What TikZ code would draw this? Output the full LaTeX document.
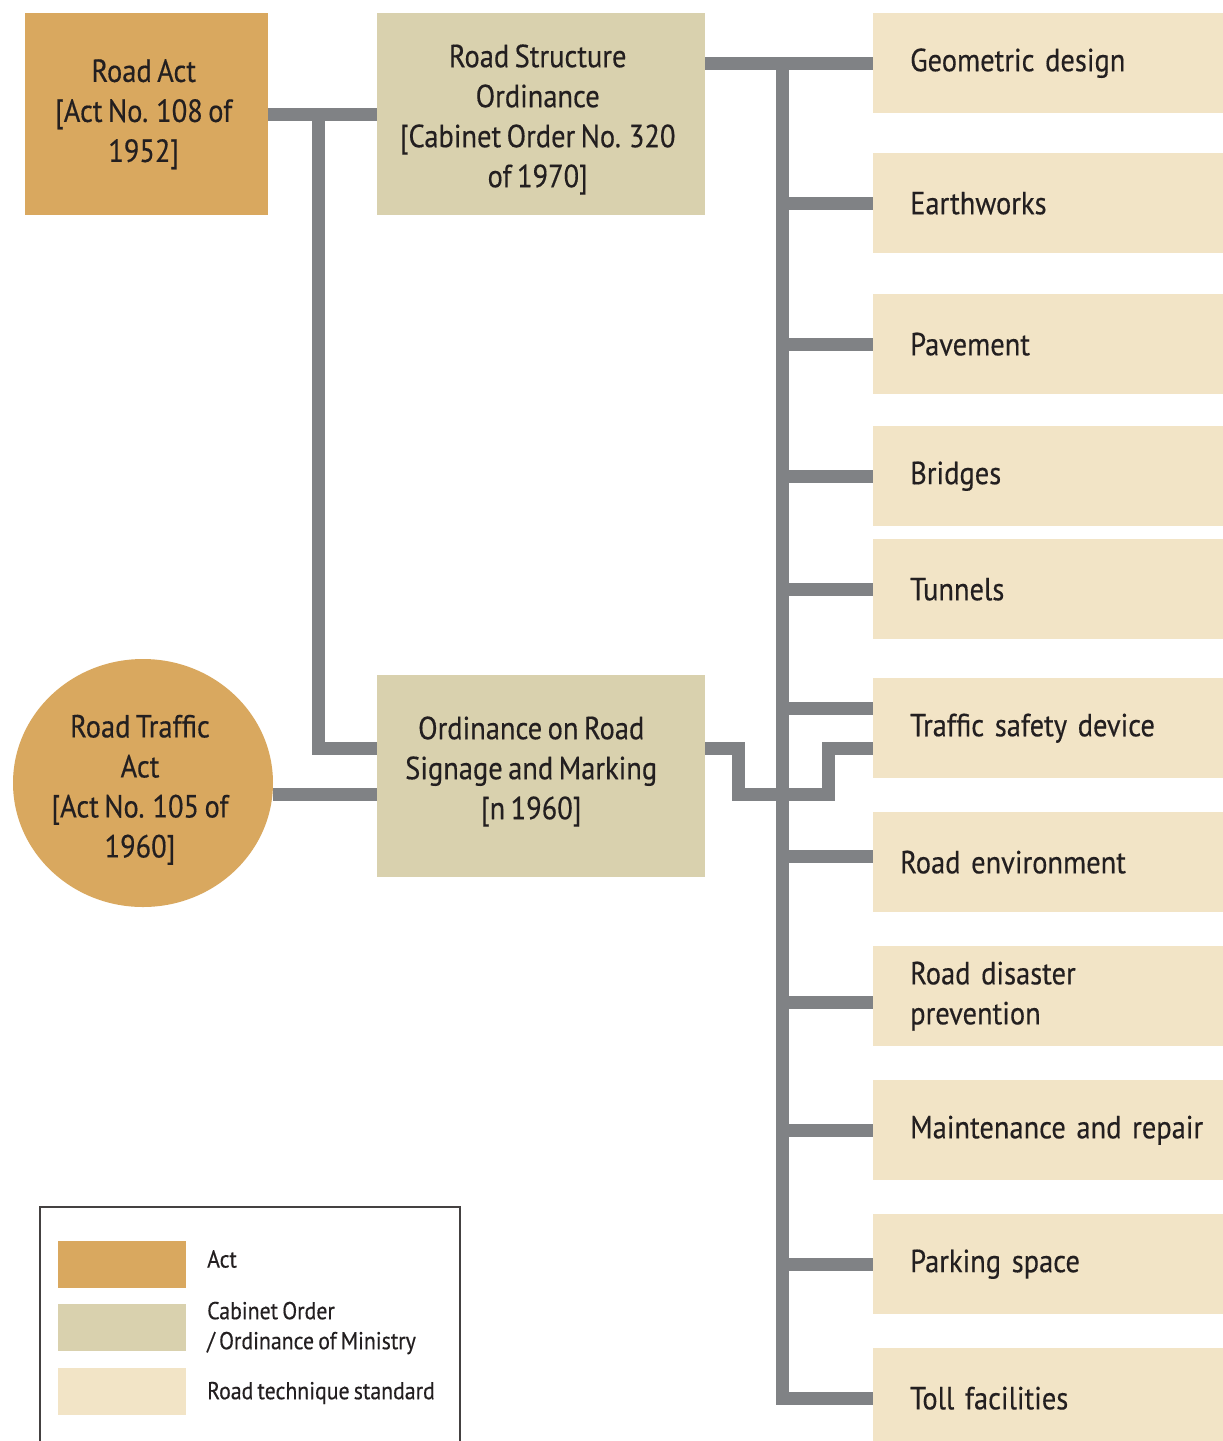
\documentclass[tikz,border=0pt]{standalone}
\usepackage{fontspec}
\setmainfont[FakeStretch=0.89,WordSpace=0.72,FakeBold=0.35]{PT Sans}
\usetikzlibrary{shapes.geometric,calc}
\definecolor{actc}{HTML}{D9A85F}
\definecolor{cabc}{HTML}{D9D1AE}
\definecolor{stdc}{HTML}{F2E4C6}
\definecolor{connc}{HTML}{808285}
\definecolor{txtc}{HTML}{231F20}
\newcommand\lawtext[4]{\makebox[0pt]{\raisebox{#1}{\smash{\parbox{#2}{\centering #4}}}\hspace*{#3}}}
\tikzset{
  base/.style={inner sep=0pt, text=txtc, font=\fontsize{32}{40}\selectfont, align=center},
  actbox/.style={base, fill=actc, minimum width=243pt, minimum height=202pt, anchor=north west},
  cabbox/.style={base, fill=cabc, minimum width=328pt, minimum height=202pt, anchor=north west},
  stdbox/.style={base, fill=stdc, minimum height=100pt, text width=300pt, inner xsep=37pt, align=left, anchor=north west},
  conn/.style={draw=connc, line width=13pt, line join=miter},
  swatch/.style={minimum width=128pt, minimum height=47pt, inner sep=0pt, anchor=north west},
  legtext/.style={inner sep=0pt, text=txtc, font=\fontsize{24.5}{30}\selectfont, align=left, anchor=west},
}
\begin{document}
\begin{tikzpicture}[x=1pt,y=-1pt]
\clip (0,0) rectangle (1223,1441);
\fill[white] (0,0) rectangle (1223,1441);

% left boxes
\node[actbox] (ra) at (25,13) {\parbox{230pt}{\centering Road Act\\{}[Act No. 108 of\\1952]}\hspace*{6pt}};
\node[base, ellipse, fill=actc, minimum width=260pt, minimum height=248pt] (rta) at (143,783)
  {\lawtext{-26pt}{240pt}{6pt}{Road Traffic\\Act\\{}[Act No. 105 of\\1960]}};
\node[cabbox] (rso) at (377,13) {\lawtext{-23pt}{320pt}{7pt}{Road Structure\\Ordinance\\{}[Cabinet Order No. 320\\of 1970]}};
\node[cabbox] (ors) at (377,675) {\lawtext{-3pt}{310pt}{20pt}{Ordinance on Road\\Signage and Marking\\{}[n 1960]}};

% right boxes
\node[stdbox] (geo) at (873,13)   {Geometric design};
\node[stdbox] (ear) at (873,153)  {Earthworks};
\node[stdbox] (pav) at (873,294)  {Pavement};
\node[stdbox] (bri) at (873,426)  {Bridges};
\node[stdbox] (tun) at (873,539)  {Tunnels};
\node[stdbox] (tsd) at (873,678)  {Traffic safety device};
\node[stdbox] (env) at (873,812)  {\hspace*{-10pt}Road environment};
\node[stdbox] (dis) at (873,946)  {Road disaster\\prevention};
\node[stdbox] (mai) at (873,1080) {Maintenance and repair};
\node[stdbox] (par) at (873,1214) {Parking space};
\node[stdbox] (tol) at (873,1348) {Toll facilities};

% connectors left
\draw[conn] (ra.east) -- (rso.west);
\coordinate (lj) at (318,113);
\draw[conn] (lj) |- ($(ors.west)+(0,-28)$);
\draw[conn] (rta.east |- 0,794) -- (ors.west |- 0,794);

% trunk
\coordinate (tt) at (782,62);
\draw[conn] (rso.east |- geo.west) -- (geo.west);
\draw[conn] (tt) |- (tol.west);
\draw[conn] (tt |- ear.west) -- (ear.west);
\draw[conn] (tt |- pav.west) -- (pav.west);
\draw[conn] (tt |- bri.west) -- (bri.west);
\draw[conn] (tt |- tun.west) -- (tun.west);
\draw[conn] ($(tt |- tsd.west)+(0,-20)$) -- ($(tsd.west)+(0,-20)$);
\draw[conn] ($(tt |- env.west)+(0,-6)$) -- ($(env.west)+(0,-6)$);
\draw[conn] ($(tt |- dis.west)+(0,6)$) -- ($(dis.west)+(0,6)$);
\draw[conn] (tt |- mai.west) -- (mai.west);
\draw[conn] (tt |- par.west) -- (par.west);

% signage connector
\draw[conn] ($(ors.east)+(0,-28)$) -- ++(33,0) -- ++(0,46) -- ++(90,0) -- ++(0,-46)
  -- ($(tsd.west)+(0,20)$);

% legend
\draw[draw=txtc!85, line width=1.3pt] (40,1460) -- (40,1207) -- (460,1207) -- (460,1460);
\node[swatch, fill=actc] (lg1) at (58,1241) {};
\node[swatch, fill=cabc] (lg2) at (58,1304) {};
\node[swatch, fill=stdc] (lg3) at (58,1368) {};
\node[legtext] (lt1) at (207,1259) {Act};
\node[legtext] (lt2) at (207,1328) {Cabinet Order\\/ Ordinance of Ministry};
\node[legtext] (lt3) at (207,1393) {Road technique standard};
\end{tikzpicture}
\end{document}
